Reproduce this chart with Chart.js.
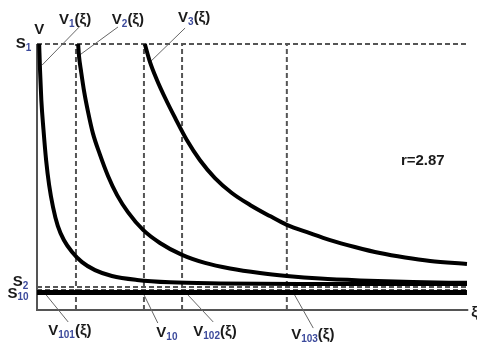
<!DOCTYPE html>
<html>
<head>
<meta charset="utf-8">
<script src="https://cdn.jsdelivr.net/npm/chart.js@4"></script>
<style>
  body { margin: 0; background: #fff; }
  #wrap { width: 477px; height: 346px; }
</style>
</head>
<body>
<div id="wrap"><canvas id="chart"></canvas></div>
<script>
// curves (xi, V)
const v1Xi = [0.05, 0.07, 0.10, 0.15, 0.21, 0.28, 0.37, 0.48, 0.62, 0.81, 1.04, 1.34, 1.73, 2.31, 3.07, 4.23, 6.07, 9.93];
const v1V  = [10.0, 9.02, 7.89, 6.77, 5.64, 4.70, 3.87, 3.16, 2.63, 2.18, 1.80, 1.50, 1.28, 1.13, 1.04, 1.00, 0.98, 0.98];

const v2Xi = [0.95, 0.97, 1.02, 1.09, 1.18, 1.29, 1.45, 1.64, 1.85, 2.10, 2.45, 2.84, 3.35, 3.88, 4.46, 5.15, 5.77, 6.54, 7.46, 8.68, 9.93];
const v2V  = [10.0, 9.55, 8.95, 8.20, 7.44, 6.65, 5.86, 5.04, 4.32, 3.68, 3.01, 2.52, 2.07, 1.77, 1.56, 1.39, 1.28, 1.18, 1.11, 1.05, 1.02];

const v3Xi = [2.49, 2.61, 2.77, 2.96, 3.19, 3.46, 3.76, 4.11, 4.50, 4.92, 5.38, 5.77, 6.30, 6.77, 7.34, 7.92, 8.50, 9.08, 9.93];
const v3V  = [10.0, 9.32, 8.65, 7.97, 7.22, 6.39, 5.64, 4.96, 4.40, 3.95, 3.53, 3.20, 2.89, 2.63, 2.37, 2.14, 1.97, 1.84, 1.73];

// the flat curves V10, V101.. sitting on the floor
const floorV = 0.66;
const xiEnd = 9.93;

// horizontal levels
const levelNames  = ['S1', 'S2', 'S10'];
const levelValues = [10, 0.86, 0.75];

// vertical marks
const markXi = [0.90, 2.47, 3.35, 5.77];

const r = 2.87;

// leader lines: [xi0, v0, xi1, v1]
const leaders = [
  [1.00, 10.68, 0.12, 9.21],
  [1.87, 10.64, 0.99, 9.59],
  [3.42, 10.60, 2.61, 9.32],
  [0.14, 0.71, 0.72, -0.45],
  [2.45, 0.64, 2.79, -0.49],
  [3.42, 0.68, 4.07, -0.45],
  [5.91, 0.68, 6.38, -0.68]
];

// text labels: parts are [text, isSub]
const labels = [
  { parts: [['V', 0]], at: [0.05, 10.53], align: 'center' },
  { parts: [['V', 0], ['1', 1], ['(ξ)', 0]], at: [0.88, 10.90], align: 'center' },
  { parts: [['V', 0], ['2', 1], ['(ξ)', 0]], at: [2.10, 10.90], align: 'center' },
  { parts: [['V', 0], ['3', 1], ['(ξ)', 0]], at: [3.63, 10.98], align: 'center' },
  { parts: [['V', 0], ['101', 1], ['(ξ)', 0]], at: [0.76, -0.79], align: 'center' },
  { parts: [['V', 0], ['10', 1]], at: [3.00, -0.86], align: 'center' },
  { parts: [['V', 0], ['102', 1], ['(ξ)', 0]], at: [4.11, -0.83], align: 'center' },
  { parts: [['V', 0], ['103', 1], ['(ξ)', 0]], at: [6.37, -0.94], align: 'center' },
  { parts: [['S', 0], ['1', 1]], at: [-0.49, 10.0], align: 'left' },
  { parts: [['S', 0], ['2', 1]], at: [-0.56, 1.05], align: 'left' },
  { parts: [['S', 0], ['10', 1]], at: [-0.68, 0.62], align: 'left' },
  { parts: [['r=' + r, 0]], at: [8.91, 5.60], align: 'center' },
  { parts: [['ξ', 0]], at: [10.03, -0.12], align: 'left' }
];

function pts(xs, ys) {
  return xs.map((x, i) => ({ x: x, y: ys[i] }));
}

const datasets = [];

[[v1Xi, v1V], [v2Xi, v2V], [v3Xi, v3V]].forEach(c => {
  datasets.push({
    data: pts(c[0], c[1]),
    borderColor: '#000',
    borderWidth: 4,
    cubicInterpolationMode: 'monotone',
    order: 0
  });
});

datasets.push({
  data: [{ x: 0, y: floorV }, { x: xiEnd, y: floorV }],
  borderColor: '#000',
  borderWidth: 5,
  order: 0
});

levelValues.forEach(v => {
  datasets.push({
    data: [{ x: 0, y: v }, { x: xiEnd, y: v }],
    borderColor: '#555',
    borderWidth: 2,
    borderDash: [5, 3],
    order: 2
  });
});

markXi.forEach(x => {
  datasets.push({
    data: [{ x: x, y: 0 }, { x: x, y: levelValues[0] }],
    borderColor: '#555',
    borderWidth: 2,
    borderDash: [5, 3],
    order: 2
  });
});

leaders.forEach(l => {
  datasets.push({
    data: [{ x: l[0], y: l[1] }, { x: l[2], y: l[3] }],
    borderColor: '#666',
    borderWidth: 1,
    order: 1
  });
});

const axesPlugin = {
  id: 'axes',
  beforeDatasetsDraw(chart) {
    const { ctx, scales: { x, y } } = chart;
    const x0 = x.getPixelForValue(0), y0 = y.getPixelForValue(0);
    ctx.save();
    ctx.strokeStyle = '#555';
    ctx.lineWidth = 2;
    ctx.beginPath();
    ctx.moveTo(x0, y.getPixelForValue(10));
    ctx.lineTo(x0, y0);
    ctx.lineTo(x.getPixelForValue(9.96), y0);
    ctx.stroke();
    ctx.restore();
  }
};

const textPlugin = {
  id: 'texts',
  afterDatasetsDraw(chart) {
    const { ctx, scales: { x, y } } = chart;
    const big = 'bold 15px "Liberation Sans", sans-serif';
    const small = 'bold 10px "Liberation Sans", sans-serif';
    ctx.save();
    ctx.textBaseline = 'middle';
    ctx.textAlign = 'left';
    for (const lab of labels) {
      let w = 0;
      for (const p of lab.parts) {
        ctx.font = p[1] ? small : big;
        w += ctx.measureText(p[0]).width;
      }
      let px = x.getPixelForValue(lab.at[0]);
      const py = y.getPixelForValue(lab.at[1]);
      if (lab.align === 'center') px -= w / 2;
      for (const p of lab.parts) {
        ctx.font = p[1] ? small : big;
        ctx.fillStyle = p[1] ? '#3c4a9c' : '#1a1a1a';
        ctx.fillText(p[0], px, py + (p[1] ? 4 : 0));
        px += ctx.measureText(p[0]).width;
      }
    }
    ctx.restore();
  }
};

new Chart(document.getElementById('chart'), {
  type: 'scatter',
  data: { datasets: datasets.map(d => Object.assign({ showLine: true, pointRadius: 0, fill: false, clip: false }, d)) },
  options: {
    responsive: true,
    maintainAspectRatio: false,
    animation: false,
    layout: { padding: { left: 37, right: 7, top: 44, bottom: 36 } },
    plugins: { legend: { display: false }, tooltip: { enabled: false } },
    scales: {
      x: { type: 'linear', min: 0, max: 10, display: false },
      y: { type: 'linear', min: 0, max: 10, display: false }
    }
  },
  plugins: [axesPlugin, textPlugin]
});
</script>
</body>
</html>
